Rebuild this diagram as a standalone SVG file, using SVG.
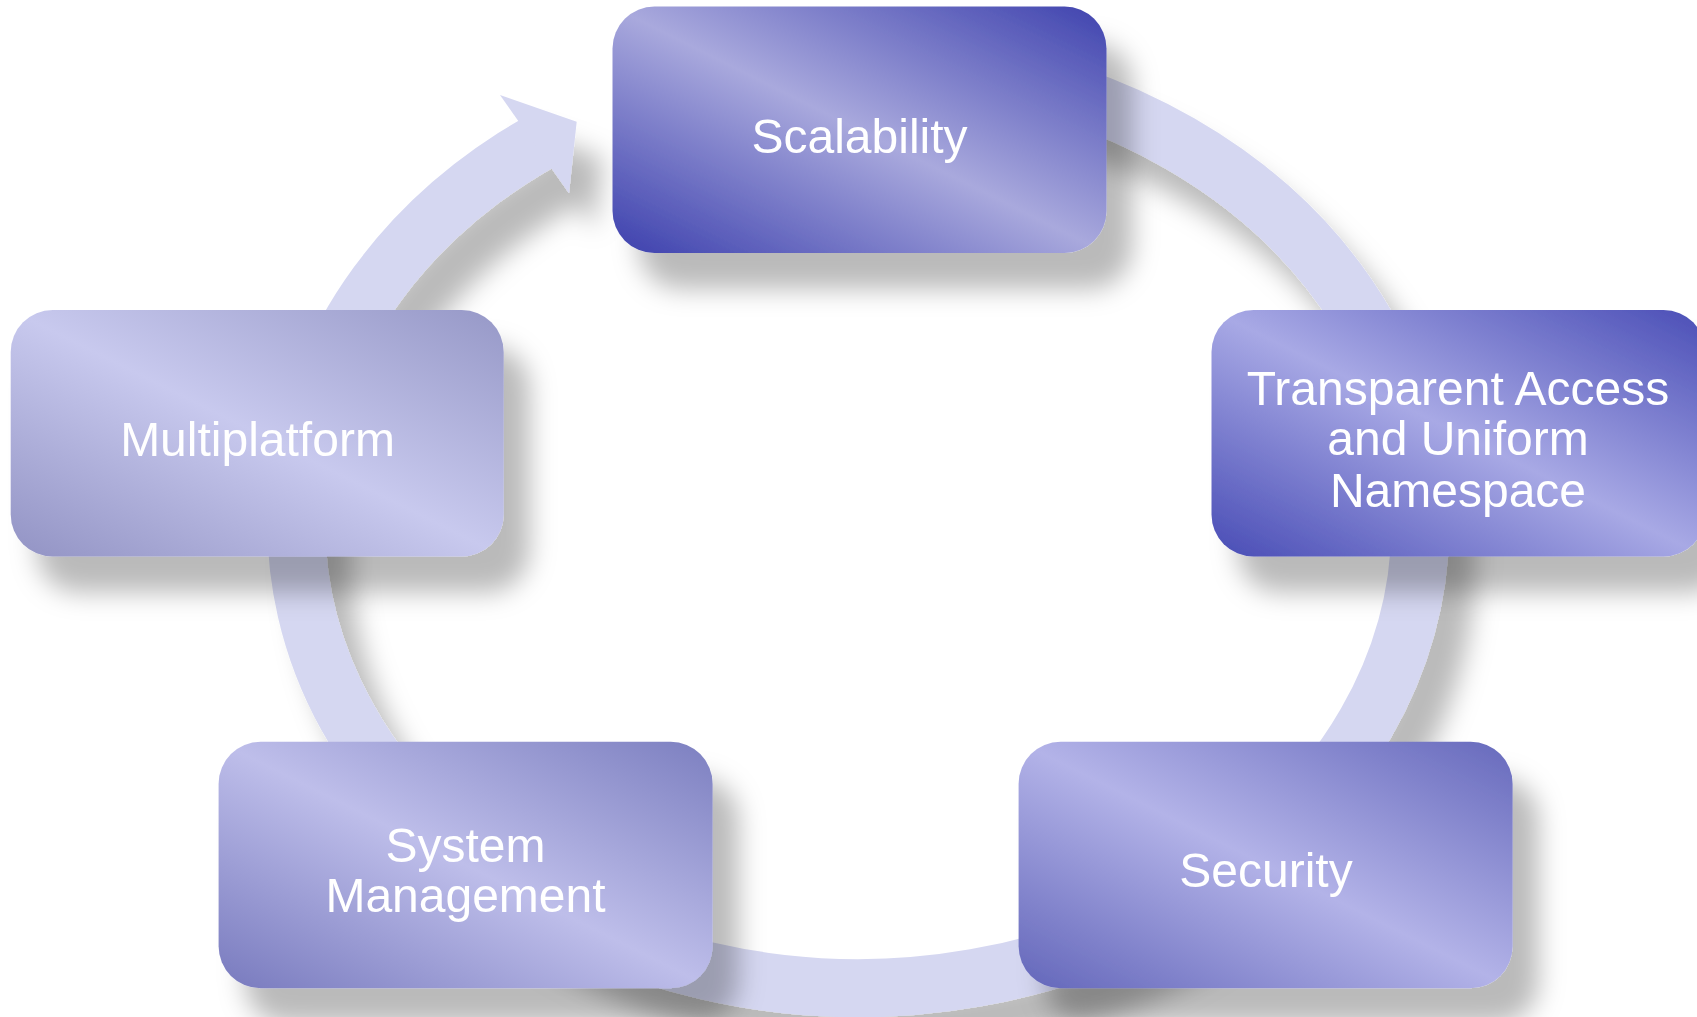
<svg xmlns="http://www.w3.org/2000/svg" width="1697" height="1017" viewBox="0 0 1697 1017">
  <defs>
    <filter id="shadow" filterUnits="userSpaceOnUse" x="-50" y="-50" width="1800" height="1120">
      <feGaussianBlur in="SourceAlpha" stdDeviation="13"/>
      <feOffset dx="26" dy="36" result="blur"/>
      <feFlood flood-color="#000000" flood-opacity="0.27"/>
      <feComposite in2="blur" operator="in"/>
      <feMerge>
        <feMergeNode/>
        <feMergeNode in="SourceGraphic"/>
      </feMerge>
    </filter>
    <linearGradient id="gScal" x1="0" y1="1" x2="1" y2="0">
      <stop offset="0" stop-color="#3c40ad"/>
      <stop offset="0.5" stop-color="#a9a9dd"/>
      <stop offset="1" stop-color="#3f43ae"/>
    </linearGradient>
    <linearGradient id="gTrans" x1="0" y1="1" x2="1" y2="0">
      <stop offset="0" stop-color="#484cb5"/>
      <stop offset="0.5" stop-color="#a8a9e5"/>
      <stop offset="1" stop-color="#4a4eb6"/>
    </linearGradient>
    <linearGradient id="gMulti" x1="0" y1="1" x2="1" y2="0">
      <stop offset="0" stop-color="#9293c4"/>
      <stop offset="0.5" stop-color="#c8c9ee"/>
      <stop offset="1" stop-color="#9698c7"/>
    </linearGradient>
    <linearGradient id="gSys" x1="0" y1="1" x2="1" y2="0">
      <stop offset="0" stop-color="#787abe"/>
      <stop offset="0.5" stop-color="#bebeea"/>
      <stop offset="1" stop-color="#7c7fc0"/>
    </linearGradient>
    <linearGradient id="gSec" x1="0" y1="1" x2="1" y2="0">
      <stop offset="0" stop-color="#6366ba"/>
      <stop offset="0.5" stop-color="#b3b3e8"/>
      <stop offset="1" stop-color="#6669bc"/>
    </linearGradient>
  </defs>
  <style>
    .box { filter: url(#shadow); }
    .lbl { font-family: "Liberation Sans", Arial, Helvetica, sans-serif; font-size: 48px; fill: #ffffff; text-anchor: middle; }
    .band { fill: none; stroke: #d5d7f1; stroke-width: 58; stroke-linecap: butt; }
    .head { fill: #d5d7f1; }
  </style>
  <rect width="1697" height="1017" fill="#ffffff"/>

  <g id="connectors" filter="url(#shadow)">
    <path class="band" d="M 956.1 67.1 A 562 464 0 1 1 544.2 139.3"/>
    <polygon class="head" points="500,95 576.7,121.7 569,193.3"/>
  </g>

  <g id="node-scalability" class="box">
    <rect x="612.5" y="6.5" width="494" height="246.5" rx="42" ry="42" fill="url(#gScal)"/>
    <text class="lbl" x="859.5" y="152.5">Scalability</text>
  </g>

  <g id="node-transparent" class="box">
    <rect x="1211.5" y="310" width="494" height="246.5" rx="42" ry="42" fill="url(#gTrans)"/>
    <text class="lbl" x="1458" y="405">Transparent Access</text>
    <text class="lbl" x="1458" y="455">and Uniform</text>
    <text class="lbl" x="1458" y="507">Namespace</text>
  </g>

  <g id="node-multiplatform" class="box">
    <rect x="10.7" y="310" width="493" height="246.5" rx="42" ry="42" fill="url(#gMulti)"/>
    <text class="lbl" x="257.5" y="455.7">Multiplatform</text>
  </g>

  <g id="node-system-management" class="box">
    <rect x="218.6" y="741.7" width="494" height="246.5" rx="42" ry="42" fill="url(#gSys)"/>
    <text class="lbl" x="465.5" y="861.7">System</text>
    <text class="lbl" x="465.5" y="911.7">Management</text>
  </g>

  <g id="node-security" class="box">
    <rect x="1018.6" y="741.7" width="494" height="246.5" rx="42" ry="42" fill="url(#gSec)"/>
    <text class="lbl" x="1266" y="887.3">Security</text>
  </g>
</svg>
